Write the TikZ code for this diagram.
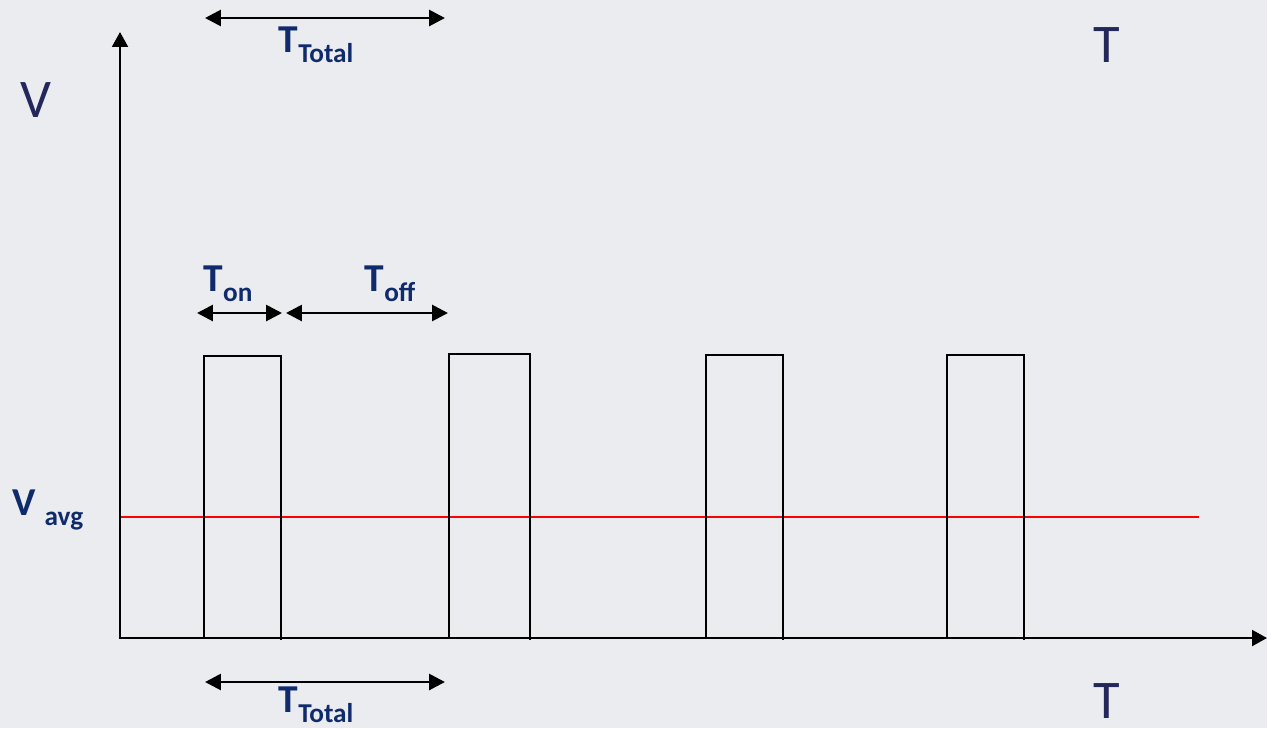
\documentclass[tikz,border=0pt]{standalone}
\usepackage{fontspec}
\setmainfont{Carlito}
\usetikzlibrary{arrows.meta}
\definecolor{bgcol}{HTML}{EBECF0}
\definecolor{lblblue}{HTML}{0F2B6B}
\definecolor{axisblue}{HTML}{23275A}
\newcommand{\tlabel}[2]{{\fontsize{22.5}{24}\selectfont\bfseries #1\raisebox{-5.7pt}{\fontsize{15.5}{17}\selectfont #2}}}
\tikzset{
  span/.style={line width=1.6pt,{Triangle[length=9pt,width=9pt]}-{Triangle[length=9pt,width=9pt]}},
  axis/.style={line width=1.4pt,-{Triangle[length=8.5pt,width=9pt]}},
  pulse/.style={line width=1.1pt},
  lbl/.style={inner sep=0pt,text=lblblue,anchor=base},
  axlbl/.style={inner sep=0pt,text=axisblue,anchor=base,font=\fontsize{31}{33}\selectfont}
}
\begin{document}
\begin{tikzpicture}[x=0.02cm,y=-0.02cm]
      \fill[bgcol] (0,0) rectangle (1267,728);
      \useasboundingbox (0,0) rectangle (1267,728);
      \coordinate (orig) at (120,638);
      \coordinate (yend) at (120,32);
      \coordinate (xend) at (1267,638);
      \draw[red,line width=0.9pt] (120,517) -- (1199,517);
      \foreach \l/\r/\t in {204/281/356, 449/530/354, 706/783/355, 947/1024/355}
        \draw[pulse] (\l,638) -- (\l,\t) -- (\r,\t) -- (\r,640);
      \draw[axis] (orig) -- (yend);
      \draw[axis] ([xshift=-0.7pt]orig) -- (xend);
      \node[axlbl] (vlab) at (36,117) {V};
      \node[axlbl] (ttoplab) at (1107,62) {T};
      \node[axlbl] (tbotlab) at (1107,718) {T};
      \node[lbl,anchor=base west] (vavg) at (12,515) {\fontsize{22.5}{24}\selectfont\bfseries V \raisebox{-5.7pt}{\fontsize{15.5}{17}\selectfont avg}};
      \coordinate (tta) at (205,18);
      \coordinate (ttb) at (445,18);
      \draw[span] (tta) -- (ttb);
      \node[lbl] (ttop) at (316,52) {\tlabel{T}{Total}};
      \coordinate (tba) at (205,682);
      \coordinate (tbb) at (445,682);
      \draw[span] (tba) -- (tbb);
      \node[lbl] (tbot) at (316,712) {\tlabel{T}{Total}};
      \coordinate (ona) at (197,313);
      \coordinate (onb) at (282,313);
      \draw[span] (ona) -- (onb);
      \node[lbl] (ton) at (228,291) {\tlabel{T}{on}};
      \coordinate (offa) at (286,313);
      \coordinate (offb) at (448,313);
      \draw[span] (offa) -- (offb);
      \node[lbl] (toff) at (390,291) {\tlabel{T}{off}};
\end{tikzpicture}
\end{document}
